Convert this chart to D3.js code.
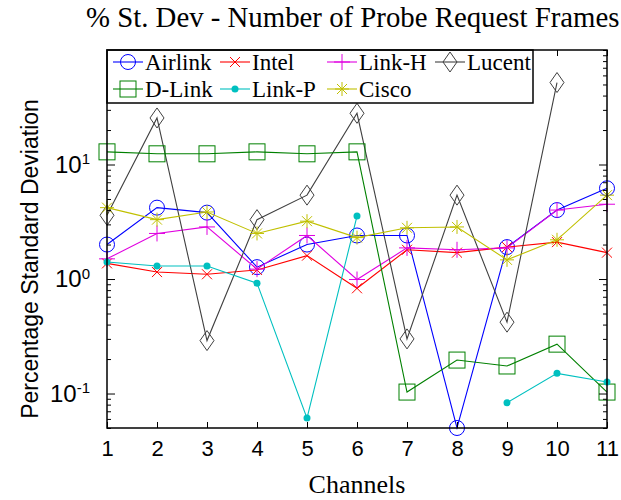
<!DOCTYPE html>
<html>
<head>
<meta charset="utf-8">
<script src="https://cdn.jsdelivr.net/npm/d3@7"></script>
<style>
    body { margin: 0; background: #fff; }
    svg { display: block; }
</style>
</head>
<body>
<script>
const channels = [1, 2, 3, 4, 5, 6, 7, 8, 9, 10, 11];
const airlink = [2.0, 4.2, 3.8, 1.27, 2.0, 2.4, 2.4, 0.05, 1.9, 4.0, 6.2];
const intel = [1.37, 1.15, 1.1, 1.2, 1.6, 0.83, 1.8, 1.7, 1.9, 2.1, 1.7];
const linkH = [1.5, 2.5, 2.85, 1.22, 2.4, 0.99, 1.87, 1.8, 1.87, 4.0, 4.5];
const lucent = [3.6, 25.5, 0.29, 3.3, 5.4, 28, 0.3, 5.4, 0.42, 52, null];
const dlink = [12.9, 12.4, 12.4, 12.9, 12.4, 12.9, 0.103, 0.196, 0.174, 0.27, 0.103];
const linkP = [1.41, 1.3, 1.3, 0.92, 0.061, 3.55, null, null, 0.083, 0.15, 0.126];
const cisco = [4.2, 3.3, 3.85, 2.5, 3.2, 2.3, 2.8, 2.85, 1.47, 2.2, 5.4];

const seriesNames = ['Airlink', 'Intel', 'Link-H', 'Lucent', 'D-Link', 'Link-P', 'Cisco'];
const seriesValues = [airlink, intel, linkH, lucent, dlink, linkP, cisco];
const seriesColors = ['#0000ff', '#ff0000', '#e000e0', '#404040', '#008000', '#00c0c0', '#c0c000'];
const seriesMarkers = ['circle', 'x', 'plus', 'diamond', 'square', 'dot', 'star'];

const yMajor = [0.1, 1, 10];
const yDomain = [0.05, 100];

const width = 621, height = 500;
const margin = { top: 50, right: 14, bottom: 72, left: 107 };

const svg = d3.select('body')
    .append('svg')
    .attr('width', width)
    .attr('height', height);

const x = d3.scaleLinear()
    .domain(d3.extent(channels))
    .range([margin.left, width - margin.right]);

const y = d3.scaleLog()
    .domain(yDomain)
    .range([height - margin.bottom, margin.top]);

// minor ticks 2..9 of every decade inside the domain
const yMinor = [];
for (let e = -2; e <= 2; e++) {
    for (let m = 1; m <= 9; m++) {
        const v = +(m * Math.pow(10, e)).toPrecision(6);
        if (v >= yDomain[0] && v <= yDomain[1] && !yMajor.includes(v)) yMinor.push(v);
    }
}

// marker shapes
function drawMarker(g, type, color) {
    if (type === 'circle') {
        g.append('circle').attr('r', 7.5).attr('fill', 'none').attr('stroke', color);
    } else if (type === 'square') {
        g.append('rect').attr('x', -8).attr('y', -8).attr('width', 16).attr('height', 16)
            .attr('fill', 'none').attr('stroke', color);
    } else if (type === 'diamond') {
        g.append('path').attr('d', 'M0,-10L7,0L0,10L-7,0Z').attr('fill', 'none').attr('stroke', color);
    } else if (type === 'x') {
        g.append('path').attr('d', 'M-5,-5L5,5M-5,5L5,-5').attr('stroke', color);
    } else if (type === 'plus') {
        g.append('path').attr('d', 'M-8,0L8,0M0,-8L0,8').attr('stroke', color);
    } else if (type === 'star') {
        g.append('path').attr('d', 'M-7,0L7,0M0,-7L0,7M-5,-5L5,5M-5,5L5,-5').attr('stroke', color);
    } else if (type === 'dot') {
        g.append('circle').attr('r', 3.5).attr('fill', color);
    }
}

// Draw lines + markers
const line = d3.line()
    .defined(d => d.v != null)
    .x(d => x(d.c))
    .y(d => y(d.v));

seriesNames.forEach((name, i) => {
    const pts = channels.map((c, j) => ({ c: c, v: seriesValues[i][j] }));
    const g = svg.append('g').attr('class', 'series');
    g.append('path')
        .datum(pts)
        .attr('fill', 'none')
        .attr('stroke', seriesColors[i])
        .attr('stroke-width', 1.1)
        .attr('d', line);
    g.selectAll('.mk')
        .data(pts.filter(d => d.v != null))
        .enter()
        .append('g')
        .attr('class', 'mk')
        .attr('transform', d => `translate(${x(d.c)},${y(d.v)})`)
        .each(function () { drawMarker(d3.select(this), seriesMarkers[i], seriesColors[i]); });
});

// Axes (ticks point inward, box style)
const xAxisBottom = svg.append('g')
    .attr('transform', `translate(0,${height - margin.bottom})`)
    .call(d3.axisBottom(x).tickValues(channels).tickSize(-6).tickPadding(12).tickFormat(d3.format('d')));
xAxisBottom.select('.domain').remove();
xAxisBottom.selectAll('text').attr('font-size', 22).attr('font-family', 'Liberation Sans, Arial, sans-serif').attr('fill', '#000');

const xAxisTop = svg.append('g')
    .attr('transform', `translate(0,${margin.top})`)
    .call(d3.axisTop(x).tickValues(channels).tickSize(-6).tickFormat(''));
xAxisTop.select('.domain').remove();

const yAxisLeft = svg.append('g')
    .attr('transform', `translate(${margin.left},0)`)
    .call(d3.axisLeft(y).tickValues(yMajor).tickSize(-8).tickPadding(17).tickFormat(''));
yAxisLeft.select('.domain').remove();
yAxisLeft.selectAll('.tick text').each(function (d) {
    const t = d3.select(this)
        .attr('font-family', 'Liberation Sans, Arial, sans-serif')
        .attr('font-size', 24)
        .attr('fill', '#000');
    t.append('tspan').text('10');
    t.append('tspan').attr('font-size', 15).attr('dy', '-0.55em').text(Math.round(Math.log10(d)));
});

svg.append('g')
    .attr('transform', `translate(${margin.left},0)`)
    .call(d3.axisLeft(y).tickValues(yMinor).tickSize(-4).tickFormat(''))
    .select('.domain').remove();

svg.append('g')
    .attr('transform', `translate(${width - margin.right},0)`)
    .call(d3.axisRight(y).tickValues(yMajor).tickSize(-8).tickFormat(''))
    .select('.domain').remove();

svg.append('g')
    .attr('transform', `translate(${width - margin.right},0)`)
    .call(d3.axisRight(y).tickValues(yMinor).tickSize(-4).tickFormat(''))
    .select('.domain').remove();

svg.selectAll('.tick line').attr('stroke', '#000');

// Legend (drawn over the data, at the top left of the box)
const legend = svg.append('g')
    .attr('id', 'legend')
    .attr('transform', `translate(${margin.left},${margin.top})`);
legend.append('rect')
    .attr('width', 426).attr('height', 53)
    .attr('fill', '#fff').attr('stroke', '#000').attr('stroke-width', 1.5);

const legendCols = [6, 113, 220, 328];
const legendRows = [12, 39];
seriesNames.forEach((name, k) => {
    const col = k < 4 ? k : k - 4;
    const row = k < 4 ? 0 : 1;
    const item = legend.append('g')
        .attr('transform', `translate(${legendCols[col]},${legendRows[row]})`);
    item.append('line')
        .attr('x1', 0).attr('x2', 30)
        .attr('stroke', seriesColors[k]).attr('stroke-width', 1.1);
    drawMarker(item.append('g').attr('transform', 'translate(15,0)'), seriesMarkers[k], seriesColors[k]);
    item.append('text')
        .attr('x', 32).attr('y', 8)
        .attr('font-family', 'Liberation Serif, Times New Roman, serif')
        .attr('font-size', 23)
        .text(name);
});

// Plot frame
svg.append('rect')
    .attr('x', margin.left).attr('y', margin.top)
    .attr('width', width - margin.left - margin.right)
    .attr('height', height - margin.top - margin.bottom)
    .attr('fill', 'none').attr('stroke', '#000').attr('stroke-width', 1.5);

// Title & axis labels
svg.append('text')
    .attr('x', 86).attr('y', 27)
    .attr('font-family', 'Liberation Serif, Times New Roman, serif')
    .attr('font-size', 28.8)
    .text('% St. Dev - Number of Probe Request Frames');

svg.append('text')
    .attr('x', (margin.left + width - margin.right) / 2).attr('y', 493)
    .attr('text-anchor', 'middle')
    .attr('font-family', 'Liberation Serif, Times New Roman, serif')
    .attr('font-size', 26)
    .text('Channels');

svg.append('text')
    .attr('transform', `translate(38,${(margin.top + height - margin.bottom) / 2 + 20}) rotate(-90)`)
    .attr('text-anchor', 'middle')
    .attr('font-family', 'Liberation Sans, Arial, sans-serif')
    .attr('font-size', 23)
    .text('Percentage Standard Deviation');
</script>
</body>
</html>
